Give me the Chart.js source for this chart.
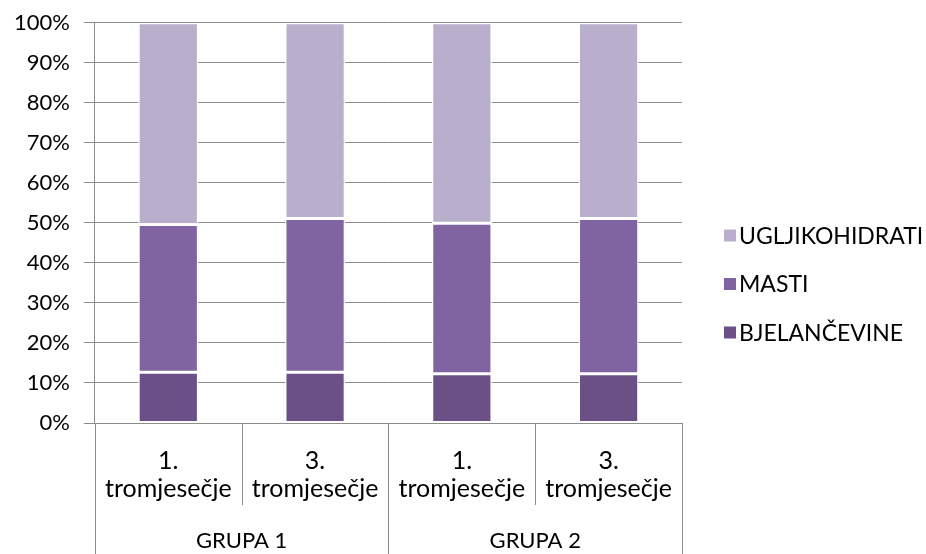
<!DOCTYPE html>
<html>
<head>
<meta charset="utf-8">
<script src="https://cdn.jsdelivr.net/npm/chart.js@4/dist/chart.umd.min.js"></script>
<style>
  html, body { margin: 0; padding: 0; background: #fff; }
  #wrap { width: 926px; height: 554px; }
</style>
</head>
<body>
<div id="wrap"><canvas id="chart"></canvas></div>
<script>
const periods = [['1.', 'tromjesečje'], ['3.', 'tromjesečje'], ['1.', 'tromjesečje'], ['3.', 'tromjesečje']];
const groups = ['GRUPA 1', 'GRUPA 2'];
const yTicks = [0, 10, 20, 30, 40, 50, 60, 70, 80, 90, 100];

const bjelancevine = [12.7, 12.7, 12.3, 12.3];
const masti = [36.9, 38.4, 37.6, 38.8];
const ugljikohidrati = [50.4, 48.9, 50.1, 48.9];

const FONT = "Lato, 'Open Sans', sans-serif";
const GRID = '#8c8c8c';

// category separators under the axis (short inside a group, long between groups)
const separators = {
  id: 'separators',
  afterDraw(chart) {
    const x = chart.scales.x;
    const { ctx, chartArea } = chart;
    const n = periods.length;
    const step = x.width / n;
    ctx.save();
    ctx.strokeStyle = GRID;
    ctx.lineWidth = 1;
    for (let i = 0; i <= n; i++) {
      const px = Math.round(x.left + i * step) + 0.5;
      const end = i % 2 === 0 ? chart.height : x.bottom;
      ctx.beginPath();
      ctx.moveTo(px, chartArea.bottom);
      ctx.lineTo(px, end);
      ctx.stroke();
    }
    ctx.restore();
  }
};

// legend on the right, top series first (Excel style: small square, tight gap)
const sideLegend = {
  id: 'sideLegend',
  afterDraw(chart) {
    const { ctx, chartArea } = chart;
    const sets = chart.data.datasets.slice().reverse();
    const left = chartArea.right + 42;
    const rowGap = 48.5;
    const midY = chart.height / 2 + 7;
    ctx.save();
    ctx.font = `23px ${FONT}`;
    ctx.textBaseline = 'middle';
    ctx.fillStyle = '#000';
    sets.forEach((ds, i) => {
      const y = midY + (i - (sets.length - 1) / 2) * rowGap;
      ctx.fillStyle = ds.backgroundColor;
      ctx.fillRect(left, y - 6, 12, 12);
      ctx.fillStyle = '#000';
      ctx.fillText(ds.label, left + 15, y + 1);
    });
    ctx.restore();
  }
};

const bar = (label, data, color) => ({
  label, data,
  backgroundColor: color,
  borderColor: '#ffffff',
  borderWidth: 1.5,
  borderSkipped: false,
  barPercentage: 1,
  categoryPercentage: 0.41
});

new Chart(document.getElementById('chart'), {
  type: 'bar',
  data: {
    labels: periods,
    datasets: [
      bar('BJELANČEVINE', bjelancevine, '#6a5087'),
      bar('MASTI', masti, '#8064a2'),
      bar('UGLJIKOHIDRATI', ugljikohidrati, '#b9aecb')
    ]
  },
  options: {
    responsive: true,
    maintainAspectRatio: false,
    animation: false,
    layout: { padding: { left: 0, top: 0, right: 244, bottom: 0 } },
    plugins: {
      legend: { display: false },
      tooltip: { enabled: false }
    },
    scales: {
      x: {
        stacked: true,
        grid: { display: false, drawTicks: true, tickLength: 22 },
        border: { color: GRID },
        ticks: { color: '#000', font: { family: FONT, size: 25, lineHeight: 1.12 }, padding: 2, maxRotation: 0 }
      },
      x2: {
        type: 'category',
        labels: groups,
        position: 'bottom',
        offset: true,
        grid: { display: false, drawTicks: true, tickLength: 23 },
        border: { display: false },
        ticks: { color: '#000', font: { family: FONT, size: 22, lineHeight: 1 }, padding: 2 }
      },
      y: {
        stacked: true,
        min: 0,
        max: 100,
        afterBuildTicks: (axis) => { axis.ticks = yTicks.map(v => ({ value: v })); },
        grid: { color: GRID, tickLength: 11 },
        border: { color: GRID },
        ticks: { color: '#000', font: { family: FONT, size: 22, lineHeight: 0.8 }, padding: 14, callback: (v) => v + '%' }
      }
    }
  },
  plugins: [separators, sideLegend]
});
</script>
</body>
</html>
